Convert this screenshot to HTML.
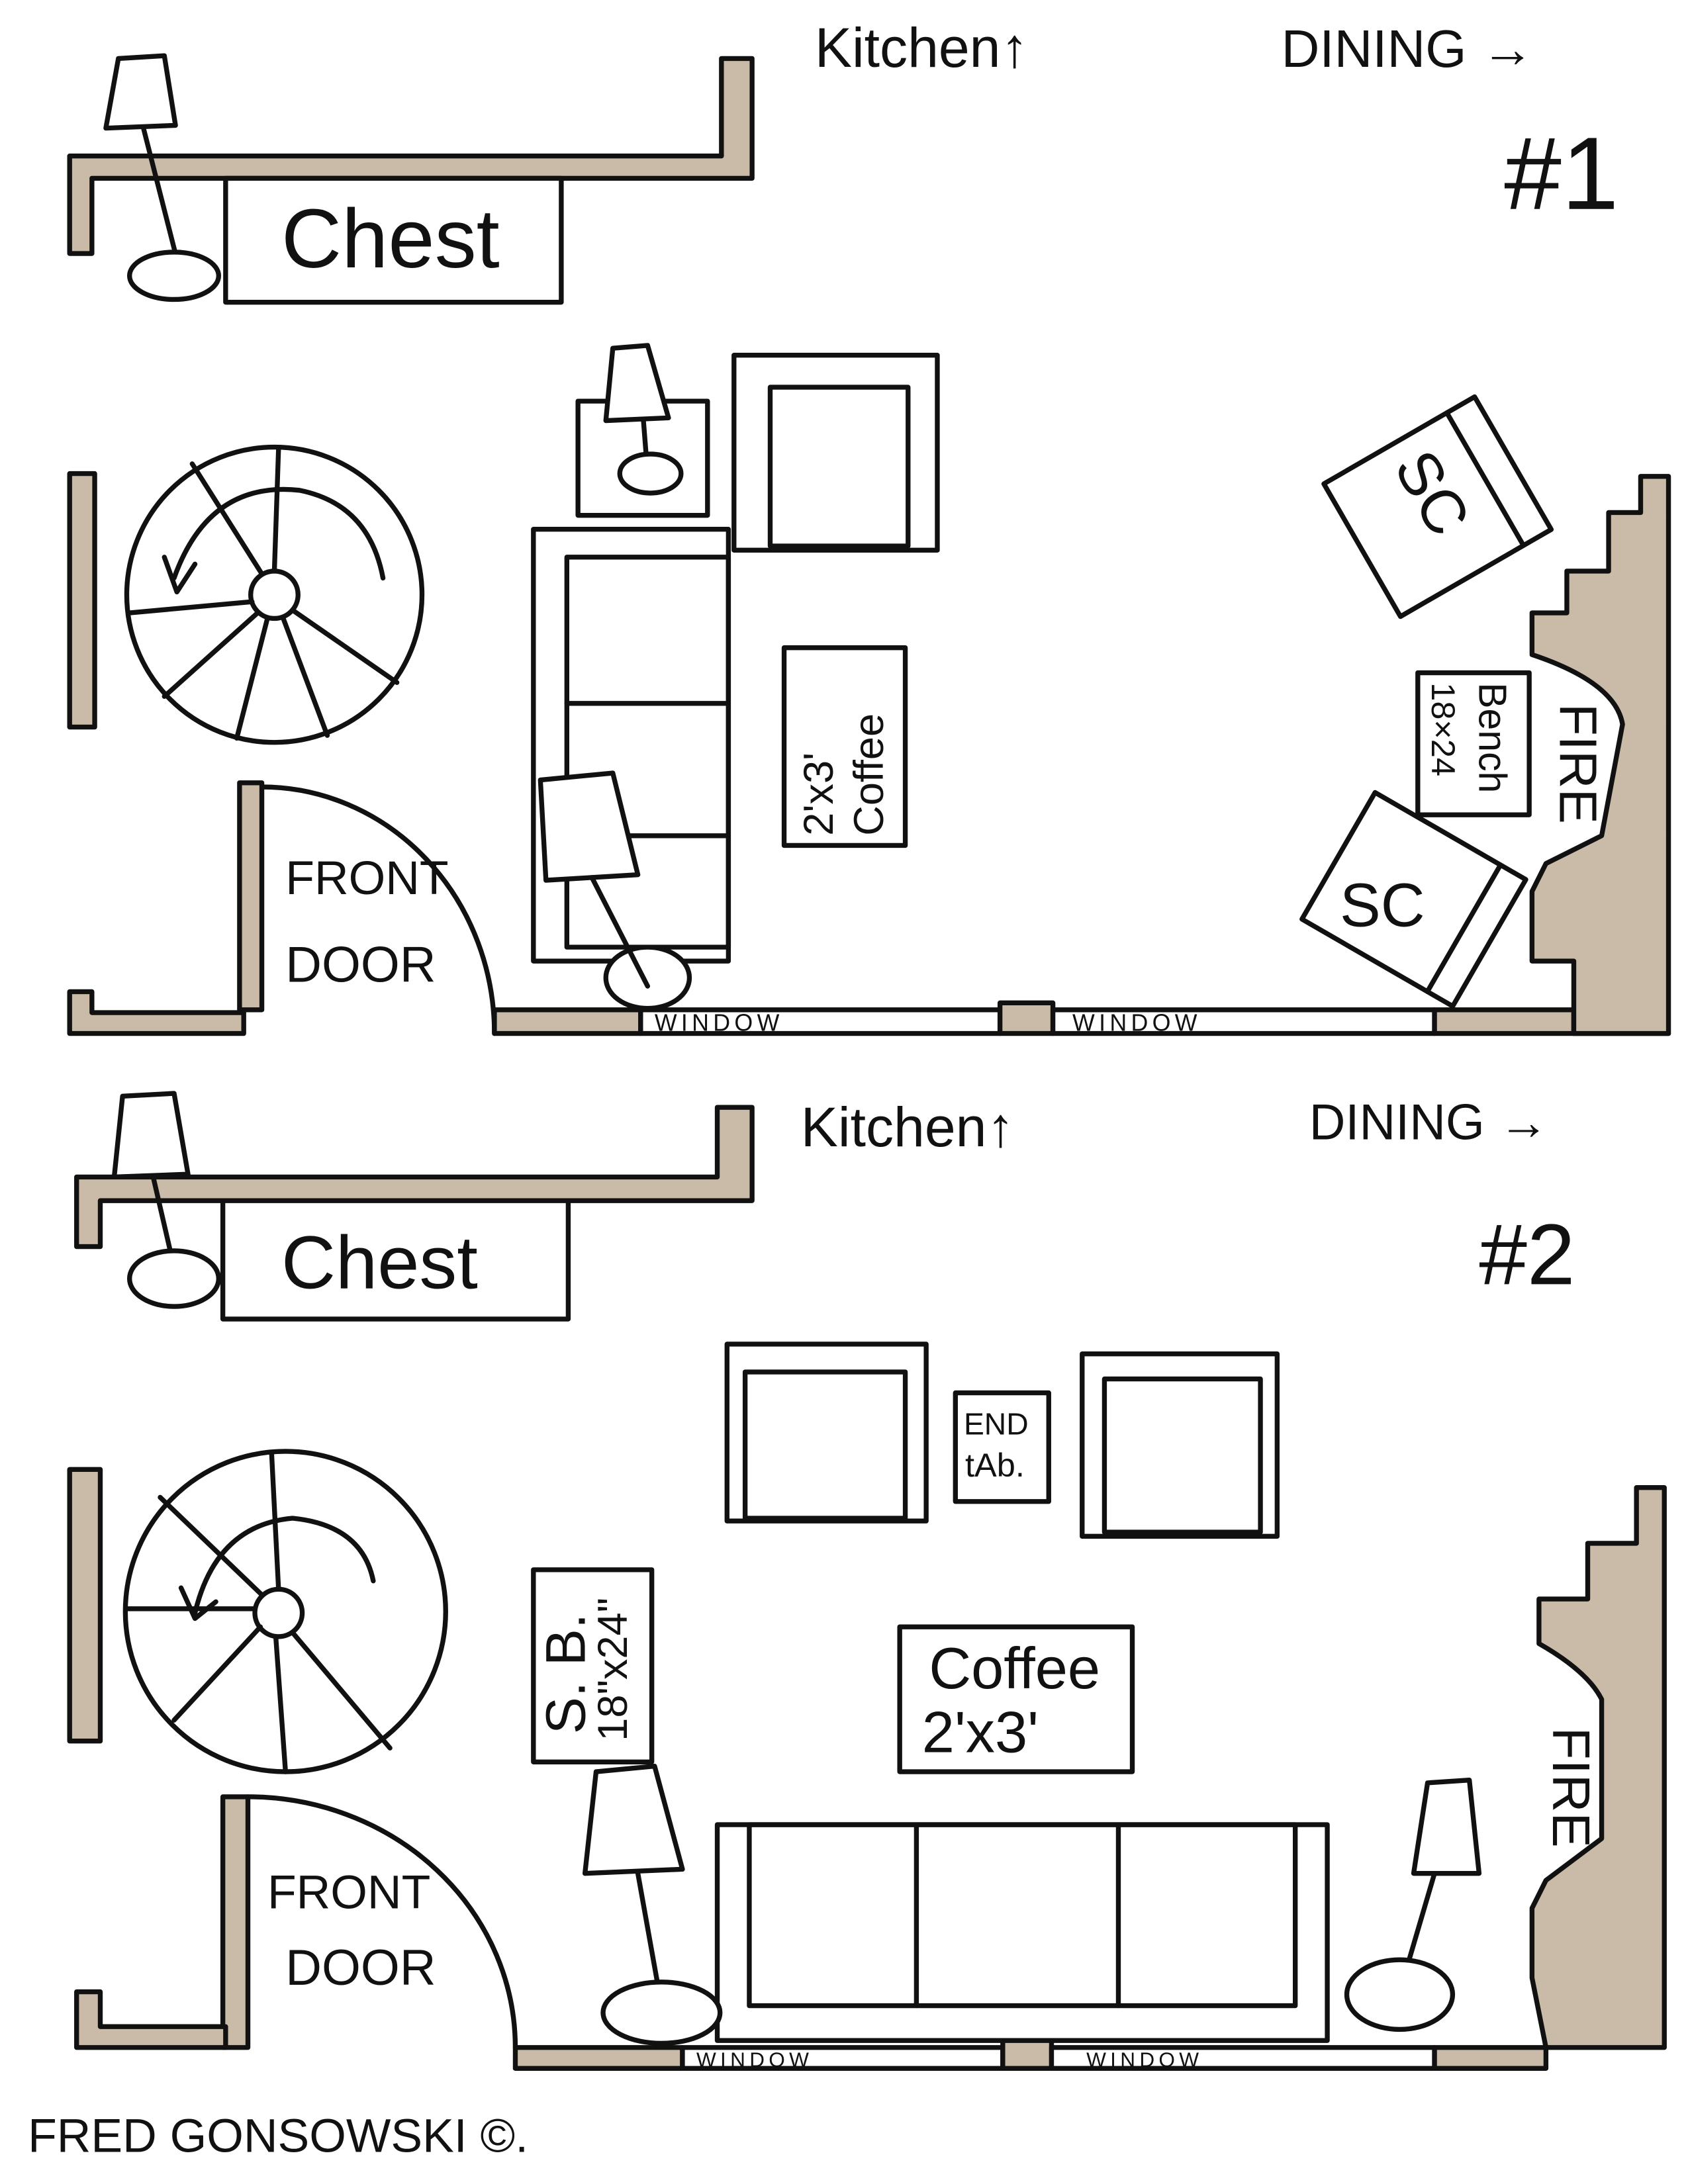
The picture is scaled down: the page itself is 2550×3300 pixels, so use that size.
<!DOCTYPE html>
<html><head><meta charset="utf-8"><style>
html,body{margin:0;padding:0;background:#fff;}
svg{display:block;}
text{font-family:"Liberation Sans",sans-serif;fill:#111;}
</style></head><body>
<svg width="2550" height="3300" viewBox="0 0 1212 1568" preserveAspectRatio="none" xmlns="http://www.w3.org/2000/svg">
<rect width="1212" height="1568" fill="#fff"/>
<g stroke="#111" stroke-width="3.5" fill="none" stroke-linejoin="round" stroke-linecap="round">

<!-- ===== PLAN 1 ===== -->
<path d="M50,112 L518,112 L518,42 L540,42 L540,128 L66,128 L66,182 L50,182 Z" fill="#c9bba7"/>
<path d="M85,42 L118,40 L126,90 L76,92 Z" fill="#fff"/>
<line x1="103" y1="92" x2="128" y2="190"/>
<ellipse cx="125" cy="198" rx="32" ry="17" fill="#fff"/>
<rect x="162" y="128" width="241" height="89" fill="#fff"/>
<rect x="50" y="340" width="18" height="182" fill="#c9bba7"/>
<circle cx="197" cy="427" r="106"/>
<circle cx="197" cy="427" r="17"/>
<line x1="197" y1="410" x2="200" y2="322"/><line x1="188" y1="412" x2="138" y2="333"/>
<line x1="181" y1="432" x2="93" y2="440"/><line x1="185" y1="440" x2="118" y2="500"/>
<line x1="192" y1="444" x2="170" y2="530"/><line x1="203" y1="443" x2="235" y2="528"/>
<line x1="210" y1="438" x2="285" y2="490"/>
<path d="M125,415 Q150,345 215,352 Q265,362 275,415"/>
<path d="M118,400 L127,425 L140,405"/>
<path d="M172,562 L188,562 L188,725 L172,725 Z" fill="#c9bba7"/>
<path d="M50,712 L66,712 L66,727 L175,727 L175,742 L50,742 Z" fill="#c9bba7"/>
<path d="M188,565 A167,177 0 0 1 355,742"/>
<rect x="355" y="725" width="105" height="17" fill="#c9bba7"/>
<rect x="460" y="725" width="258" height="17" fill="#fff"/>
<rect x="718" y="720" width="38" height="22" fill="#c9bba7"/>
<rect x="756" y="725" width="274" height="17" fill="#fff"/>
<rect x="1030" y="725" width="100" height="17" fill="#c9bba7"/>
<line x1="1130" y1="742" x2="1198" y2="742"/>
<path d="M1198,342 L1178,342 L1178,368 L1155,368 L1155,410 L1125,410 L1125,440 L1100,440 L1100,470 Q1160,490 1165,520 L1150,600 L1110,620 L1100,640 L1100,690 L1130,690 L1130,742 L1198,742 Z" fill="#c9bba7"/>
<rect x="415" y="288" width="93" height="82" fill="#fff"/>
<path d="M440,250 L465,248 L480,300 L435,302 Z" fill="#fff"/>
<line x1="462" y1="302" x2="465" y2="340"/>
<ellipse cx="467" cy="340" rx="22" ry="14" fill="#fff"/>
<rect x="527" y="255" width="146" height="140" fill="#fff"/>
<rect x="553" y="278" width="99" height="114"/>
<rect x="383" y="380" width="140" height="310" fill="#fff"/>
<rect x="407" y="400" width="116" height="280"/>
<line x1="407" y1="505" x2="523" y2="505"/><line x1="407" y1="600" x2="523" y2="600"/>
<ellipse cx="465" cy="702" rx="30" ry="22" fill="#fff"/>
<path d="M388,560 L440,555 L458,628 L392,632 Z" fill="#fff"/>
<line x1="425" y1="630" x2="465" y2="708"/>
<rect x="563" y="465" width="87" height="142" fill="#fff"/>
<g transform="translate(1030,365) rotate(-30)"><rect x="-60" y="-55" width="125" height="110" fill="#fff"/><line x1="42" y1="-55" x2="42" y2="55"/></g>
<g transform="translate(1015,645) rotate(30)"><rect x="-62" y="-52" width="125" height="105" fill="#fff"/><line x1="42" y1="-52" x2="42" y2="53"/></g>
<rect x="1018" y="483" width="80" height="102" fill="#fff"/>

<!-- ===== PLAN 2 ===== -->
<path d="M55,845 L515,845 L515,795 L540,795 L540,862 L72,862 L72,895 L55,895 Z" fill="#c9bba7"/>
<path d="M88,787 L125,785 L135,843 L82,845 Z" fill="#fff"/>
<line x1="110" y1="845" x2="125" y2="910"/>
<ellipse cx="125" cy="918" rx="32" ry="20" fill="#fff"/>
<rect x="160" y="862" width="248" height="85" fill="#fff"/>
<rect x="522" y="965" width="143" height="127" fill="#fff"/><rect x="535" y="985" width="115" height="105"/>
<rect x="777" y="972" width="140" height="131" fill="#fff"/><rect x="793" y="990" width="112" height="110"/>
<rect x="686" y="1000" width="67" height="78" fill="#fff"/>
<rect x="50" y="1055" width="22" height="195" fill="#c9bba7"/>
<circle cx="205" cy="1157" r="115"/>
<circle cx="200" cy="1158" r="17"/>
<line x1="200" y1="1141" x2="195" y2="1043"/><line x1="188" y1="1145" x2="115" y2="1075"/>
<line x1="183" y1="1155" x2="92" y2="1155"/><line x1="187" y1="1168" x2="125" y2="1235"/>
<line x1="198" y1="1175" x2="205" y2="1272"/><line x1="210" y1="1172" x2="280" y2="1255"/>
<path d="M140,1158 Q155,1095 210,1090 Q260,1095 268,1135"/>
<path d="M130,1140 L140,1162 L155,1150"/>
<rect x="383" y="1127" width="85" height="138" fill="#fff"/>
<rect x="646" y="1168" width="167" height="104" fill="#fff"/>
<rect x="515" y="1310" width="438" height="155" fill="#fff"/>
<rect x="538" y="1310" width="392" height="130"/>
<line x1="658" y1="1310" x2="658" y2="1440"/><line x1="803" y1="1310" x2="803" y2="1440"/>
<path d="M428,1272 L470,1268 L490,1342 L420,1345 Z" fill="#fff"/>
<line x1="458" y1="1345" x2="475" y2="1440"/>
<ellipse cx="475" cy="1445" rx="42" ry="22" fill="#fff"/>
<path d="M1025,1280 L1055,1278 L1062,1345 L1015,1345 Z" fill="#fff"/>
<line x1="1030" y1="1345" x2="1005" y2="1430"/>
<ellipse cx="1005" cy="1432" rx="38" ry="25" fill="#fff"/>
<path d="M160,1290 L178,1290 L178,1470 L160,1470 Z" fill="#c9bba7"/>
<path d="M55,1430 L72,1430 L72,1455 L162,1455 L162,1470 L55,1470 Z" fill="#c9bba7"/>
<path d="M178,1290 A192,180 0 0 1 370,1470"/>
<rect x="370" y="1470" width="120" height="15" fill="#c9bba7"/>
<rect x="490" y="1470" width="230" height="15" fill="#fff"/>
<rect x="720" y="1465" width="35" height="20" fill="#c9bba7"/>
<rect x="755" y="1470" width="275" height="15" fill="#fff"/>
<rect x="1030" y="1470" width="80" height="15" fill="#c9bba7"/>
<path d="M1195,1068 L1175,1068 L1175,1108 L1140,1108 L1140,1148 L1105,1148 L1105,1180 Q1140,1200 1150,1220 L1150,1320 L1110,1350 L1100,1370 L1100,1420 L1110,1470 L1195,1470 Z" fill="#c9bba7"/>
</g>

<g>
<text x="585" y="48" font-size="40">Kitchen↑</text>
<text x="920" y="48" font-size="38">DINING →</text>
<text x="1080" y="150" font-size="74" font-weight="300">#1</text>
<text x="202" y="192" font-size="60">Chest</text>
<text x="205" y="642" font-size="34">FRONT</text>
<text x="205" y="705" font-size="36">DOOR</text>
<text x="470" y="740" font-size="17" letter-spacing="3">WINDOW</text>
<text x="770" y="740" font-size="17" letter-spacing="3">WINDOW</text>
<text transform="translate(598,600) rotate(-90)" font-size="30">2'x3'</text>
<text transform="translate(634,600) rotate(-90)" font-size="30">Coffee</text>
<text transform="translate(1000,335) rotate(60)" font-size="44">SC</text>
<text x="962" y="665" font-size="44">SC</text>
<text transform="translate(1062,490) rotate(90)" font-size="28">Bench</text>
<text transform="translate(1028,490) rotate(90)" font-size="24">18×24</text>
<text transform="translate(1120,505) rotate(90)" font-size="38">FIRE</text>

<text x="575" y="823" font-size="40">Kitchen↑</text>
<text x="940" y="818" font-size="36">DINING →</text>
<text x="1062" y="922" font-size="62">#2</text>
<text x="202" y="925" font-size="54">Chest</text>
<text x="692" y="1030" font-size="22">END</text>
<text x="693" y="1060" font-size="24">tAb.</text>
<text transform="translate(420,1245) rotate(-90)" font-size="40">S. B.</text>
<text transform="translate(450,1250) rotate(-90)" font-size="30">18"x24"</text>
<text x="667" y="1212" font-size="42">Coffee</text>
<text x="662" y="1258" font-size="42">2'x3'</text>
<text x="192" y="1370" font-size="34">FRONT</text>
<text x="205" y="1425" font-size="36">DOOR</text>
<text x="500" y="1484" font-size="15" letter-spacing="3">WINDOW</text>
<text x="780" y="1484" font-size="15" letter-spacing="3">WINDOW</text>
<text transform="translate(1115,1240) rotate(90)" font-size="38">FIRE</text>
<text x="20" y="1545" font-size="34">FRED GONSOWSKI ©.</text>
</g>
</svg>
</body></html>
